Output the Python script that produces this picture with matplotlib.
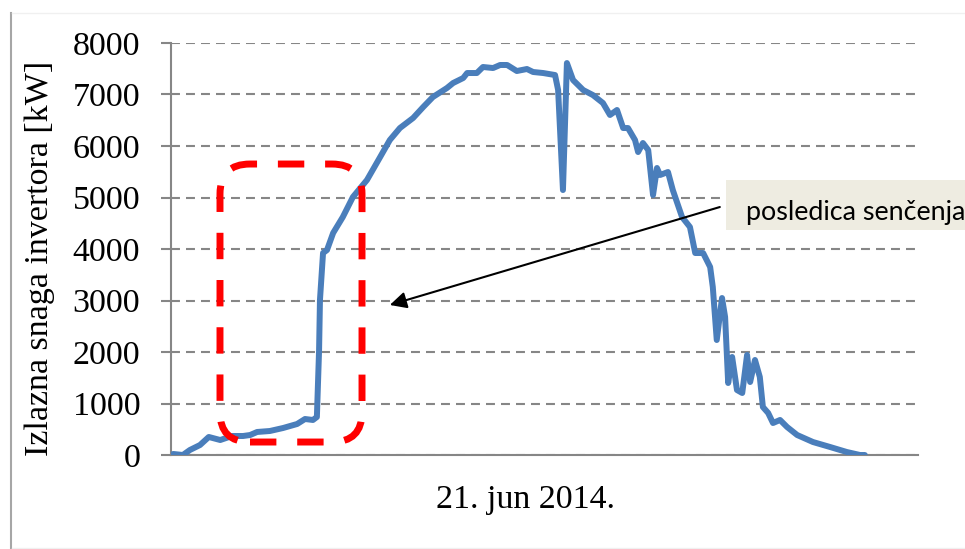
import matplotlib
matplotlib.use("Agg")
import matplotlib.pyplot as plt
from matplotlib.patches import FancyBboxPatch, Rectangle, BoxStyle
from matplotlib.lines import Line2D

# ---------------- data ----------------
hours = [4.05, 4.27, 4.43, 4.66, 4.86, 5.12, 5.39, 5.64, 5.80, 5.96,
         6.25, 6.55, 6.87, 7.05, 7.23, 7.32, 7.37, 7.39, 7.46, 7.55,
         7.69, 7.91, 8.14, 8.46, 8.76, 8.98, 9.21, 9.51, 9.74, 9.96,
         10.28, 10.42, 10.65, 10.74, 10.96, 11.10, 11.33, 11.49, 11.65, 11.87,
         12.10, 12.24, 12.47, 12.74, 12.81, 12.92, 13.01, 13.15, 13.38, 13.60,
         13.83, 13.99, 14.15, 14.29, 14.40, 14.56, 14.63, 14.74, 14.86, 14.97,
         15.06, 15.13, 15.31, 15.42, 15.63, 15.81, 15.93, 16.11, 16.27, 16.33,
         16.42, 16.54, 16.61, 16.68, 16.77, 16.88, 17.00, 17.11, 17.18, 17.29,
         17.40, 17.47, 17.59, 17.70, 17.86, 18.02, 18.25, 18.61, 19.00, 19.38,
         19.68, 19.79]
power_kw = [20, 0, 97, 194, 350, 291, 369, 369, 388, 447,
            466, 524, 602, 699, 680, 738, 2039, 3010, 3922, 3980,
            4311, 4621, 5010, 5340, 5786, 6116, 6349, 6544, 6757, 6951,
            7126, 7223, 7320, 7417, 7417, 7534, 7514, 7573, 7573, 7456,
            7495, 7437, 7417, 7378, 7087, 5145, 7611, 7281, 7087, 6990,
            6835, 6602, 6699, 6349, 6349, 6116, 5883, 6058, 5922, 5048,
            5573, 5437, 5495, 5145, 4621, 4427, 3922, 3922, 3650, 3262,
            2233, 3048, 2680, 1398, 1903, 1262, 1204, 1942, 1417, 1845,
            1515, 932, 816, 621, 680, 544, 388, 252, 155, 58,
            0, 0]
y_ticks = [0, 1000, 2000, 3000, 4000, 5000, 6000, 7000, 8000]
x_label = "21. jun 2014."
y_label = "Izlazna snaga invertora [kW]"
annotation_text = "posledica senčenja"
shade_x = (5.115, 8.347)
shade_y = (252, 5650)
arrow_tail = (16.49, 4815)
arrow_head = (8.98, 2913)

# ---------------- figure ----------------
plt.rcParams["font.family"] = ["Liberation Serif", "DejaVu Serif"]
W, H = 965, 549
fig = plt.figure(figsize=(W / 100, H / 100), dpi=100)
ax_l, ax_r, ax_b, ax_t = 171, 918, 455, 43
ax = fig.add_axes([ax_l / W, 1 - ax_b / H, (ax_r - ax_l) / W, (ax_b - ax_t) / H])
xmin, xmax = 4.0, 21.0
ax.set_xlim(xmin, xmax)
ax.set_ylim(0, 8000)

grey = "#868686"
ax.set_yticks(y_ticks)
ax.set_xticks([])
ax.yaxis.grid(True, color=grey, lw=1.5, linestyle=(0, (4.3, 2.9)))
ax.set_axisbelow(True)
for s in ["top", "right"]:
    ax.spines[s].set_visible(False)
for s in ["left", "bottom"]:
    ax.spines[s].set_color(grey)
    ax.spines[s].set_linewidth(1.5)
ax.tick_params(axis="y", length=7.2, width=1.5, color=grey, pad=15,
               labelsize=24.5, labelcolor="black")

# main series
ax.plot(hours, power_kw, color="#4A7EBB", lw=4.3,
        solid_joinstyle="round", solid_capstyle="round", zorder=3)

# red dashed rounded box
x_per_px = (xmax - xmin) / (ax_r - ax_l)
y_per_px = 8000 / (ax_b - ax_t)
r_px = 30
box = FancyBboxPatch((shade_x[0], shade_y[0]), shade_x[1] - shade_x[0], shade_y[1] - shade_y[0],
                     boxstyle=BoxStyle.Round(pad=0, rounding_size=r_px * x_per_px),
                     mutation_aspect=y_per_px / x_per_px,
                     fill=False, edgecolor="#FF0000", lw=5,
                     linestyle=(0, (3.8, 3.0)), zorder=4)
ax.add_patch(box)

# arrow
ax.annotate("", xy=arrow_head, xytext=arrow_tail,
            arrowprops=dict(arrowstyle="-|>", color="black", lw=1.5,
                            mutation_scale=25, shrinkA=0, shrinkB=0),
            annotation_clip=False, zorder=5)

# annotation label box
fig.add_artist(Rectangle((726 / W, 1 - 230 / H), (W - 726) / W + 0.01, 50 / H,
                         transform=fig.transFigure, facecolor="#EEECE1",
                         edgecolor="none", zorder=6))
fig.text(746 / W, 1 - 220 / H, annotation_text, fontsize=19.4,
         family=["Lato", "DejaVu Sans"], ha="left", va="baseline", zorder=7)

# axis labels
fig.text(525 / W, 1 - 500 / H, x_label, fontsize=24.5, ha="center", va="center")
fig.text(40 / W, 1 - 258 / H, y_label, fontsize=24.5, rotation=90,
         ha="center", va="center")

# outer frame lines
fig.add_artist(Line2D([10.5 / W, 10.5 / W], [0, 1 - 13 / H], transform=fig.transFigure,
                      color="#A6A6A6", lw=1.5))
fig.add_artist(Line2D([12 / W, 1], [1 - 13 / H, 1 - 13 / H], transform=fig.transFigure,
                      color="#F0F0F0", lw=1))
fig.add_artist(Line2D([12 / W, 1], [1 - 547.5 / H, 1 - 547.5 / H], transform=fig.transFigure,
                      color="#F0F0F0", lw=1))

fig.savefig("out.png", dpi=100)
